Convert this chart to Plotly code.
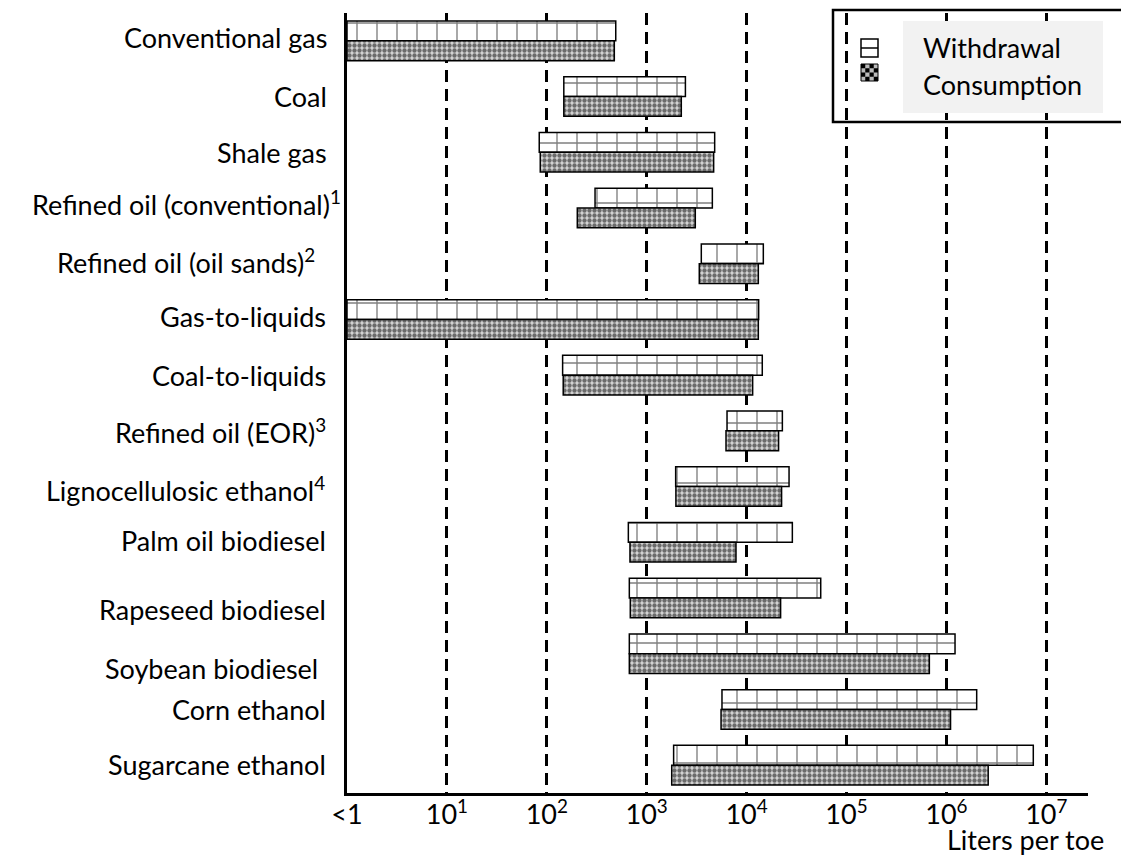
import plotly.graph_objects as go

categories = [
    "Conventional gas", "Coal", "Shale gas", "Refined oil (conventional)",
    "Refined oil (oil sands)", "Gas-to-liquids", "Coal-to-liquids",
    "Refined oil (EOR)", "Lignocellulosic ethanol", "Palm oil biodiesel",
    "Rapeseed biodiesel", "Soybean biodiesel", "Corn ethanol", "Sugarcane ethanol",
]
label_text = [
    "Conventional gas", "Coal", "Shale gas", "Refined oil (conventional)<sup>1</sup>",
    "Refined oil (oil sands)<sup>2</sup>", "Gas-to-liquids", "Coal-to-liquids",
    "Refined oil (EOR)<sup>3</sup>", "Lignocellulosic ethanol<sup>4</sup>", "Palm oil biodiesel",
    "Rapeseed biodiesel", "Soybean biodiesel", "Corn ethanol", "Sugarcane ethanol",
]
withdrawal_low = [1, 148, 84, 304, 3520, 1, 144, 6370, 1950, 655, 670, 670, 5670, 1860]
withdrawal_high = [490, 2440, 4790, 4540, 14700, 13200, 14350, 22800, 26600, 28700,
                   55200, 1.22e6, 2.01e6, 7.41e6]
consumption_low = [1, 148, 86, 202, 3360, 1, 146, 6220, 1960, 680, 685, 670, 5550, 1780]
consumption_high = [474, 2220, 4680, 3065, 13100, 13100, 11500, 20900, 22400, 7830,
                    21900, 675000, 1.10e6, 2.62e6]
tick_vals = [1, 10, 100, 1000, 1e4, 1e5, 1e6, 1e7]
tick_text = ["&lt;1", "10<sup>1</sup>", "10<sup>2</sup>", "10<sup>3</sup>", "10<sup>4</sup>",
             "10<sup>5</sup>", "10<sup>6</sup>", "10<sup>7</sup>"]
x_title = "Liters per toe"
series_names = ["Withdrawal", "Consumption"]

# ---- layout geometry (page pixels; body margin removed by post_script) ----
W, H = 1121, 856
L, R, T, B = 347, 1088, 13, 793          # plot area in page pixels
FONT = "Lato"
FS = 27

def px(x):
    return (x - L) / (R - L)

def py(y):
    return (B - y) / (B - T)

# per-label style offsets (right-end page pixel, vertical shift in px, + = down)
label_right = [329, 329, 329, 343, 317, 328, 328, 328, 327, 328, 328, 320, 328, 328]
label_dy = [-3, 0, 0, -5, -3, -3, 0, 0, 2, -2, 11, 15, 0, -1]

fig = go.Figure()
fig.add_trace(go.Bar(
    y=categories,
    x=[h - l for h, l in zip(withdrawal_high, withdrawal_low)],
    base=withdrawal_low,
    orientation="h",
    name=series_names[0],
    marker=dict(color="white", line=dict(color="black", width=1.5),
                pattern=dict(shape="+", fgcolor="black", bgcolor="white",
                             size=20, solidity=0.13)),
))
fig.add_trace(go.Bar(
    y=categories,
    x=[h - l for h, l in zip(consumption_high, consumption_low)],
    base=consumption_low,
    orientation="h",
    name=series_names[1],
    marker=dict(color="white", line=dict(color="black", width=1.5),
                pattern=dict(shape=".", fgcolor="black", bgcolor="#d6d6d6",
                             size=5, solidity=0.6)),
))

fig.update_layout(
    width=W, height=H,
    margin=dict(l=L, r=W - R, t=T, b=H - B, pad=0),
    paper_bgcolor="white", plot_bgcolor="white",
    barmode="group", bargap=0.29, bargroupgap=0,
    showlegend=False,
    font=dict(family=FONT, size=FS, color="black"),
    xaxis=dict(type="log", range=[0, (R - L) / 99.9],
               tickvals=tick_vals, ticktext=tick_text,
               showgrid=True, gridcolor="black", gridwidth=2.5, griddash="12px,7px",
               showline=True, linecolor="black", linewidth=3,
               ticks="", zeroline=False, ticklabelstandoff=-4,
               tickfont=dict(family=FONT, size=FS, color="black")),
    yaxis=dict(type="category", range=[13.5, -0.5], showticklabels=False,
               showgrid=False, showline=True, linecolor="black", linewidth=2.5,
               ticks="", zeroline=False),
)

annotations = []
for cat, txt, xr, dy in zip(categories, label_text, label_right, label_dy):
    annotations.append(dict(
        xref="paper", yref="y", x=px(xr), y=cat, text=txt, showarrow=False,
        xanchor="right", yanchor="middle", yshift=-dy,
        font=dict(family=FONT, size=FS, color="black"),
    ))
annotations.append(dict(
    xref="paper", yref="paper", x=px(1106), y=py(839), text=x_title, showarrow=False,
    xanchor="right", yanchor="middle", font=dict(family=FONT, size=FS, color="black"),
))
# legend texts
annotations.append(dict(xref="paper", yref="paper", x=px(921), y=py(48), text=series_names[0],
                        showarrow=False, xanchor="left", yanchor="middle",
                        font=dict(family=FONT, size=FS, color="black")))
annotations.append(dict(xref="paper", yref="paper", x=px(921), y=py(84), text=series_names[1],
                        showarrow=False, xanchor="left", yanchor="middle",
                        font=dict(family=FONT, size=FS, color="black")))

shapes = []
# legend frame
shapes.append(dict(type="rect", xref="paper", yref="paper", x0=px(833), x1=px(1140),
                   y0=py(122), y1=py(10), line=dict(color="black", width=2.5),
                   fillcolor="rgba(0,0,0,0)", layer="above"))
# grey text background
shapes.append(dict(type="rect", xref="paper", yref="paper", x0=px(903), x1=px(1103),
                   y0=py(113), y1=py(21), line=dict(width=0),
                   fillcolor="#f2f2f2", layer="above"))
# withdrawal swatch
shapes.append(dict(type="rect", xref="paper", yref="paper", x0=px(861), x1=px(878),
                   y0=py(57), y1=py(39), line=dict(color="black", width=1.5),
                   fillcolor="white", layer="above"))
shapes.append(dict(type="line", xref="paper", yref="paper", x0=px(861), x1=px(878),
                   y0=py(48), y1=py(48), line=dict(color="black", width=1.5), layer="above"))
# consumption swatch (checker)
cx0, cy0, cell = 861, 64, 4.25
shapes.append(dict(type="rect", xref="paper", yref="paper", x0=px(cx0), x1=px(cx0 + 4 * cell),
                   y0=py(cy0 + 4 * cell), y1=py(cy0), line=dict(width=0),
                   fillcolor="#bbbbbb", layer="above"))
for i in range(4):
    for j in range(4):
        if (i + j) % 2 == 0:
            shapes.append(dict(type="rect", xref="paper", yref="paper",
                               x0=px(cx0 + i * cell), x1=px(cx0 + (i + 1) * cell),
                               y0=py(cy0 + (j + 1) * cell), y1=py(cy0 + j * cell),
                               line=dict(width=0), fillcolor="black", layer="above"))
shapes.append(dict(type="rect", xref="paper", yref="paper", x0=px(cx0), x1=px(cx0 + 4 * cell),
                   y0=py(cy0 + 4 * cell), y1=py(cy0), line=dict(color="black", width=1),
                   fillcolor="rgba(0,0,0,0)", layer="above"))

fig.update_layout(annotations=annotations, shapes=shapes)
fig.write_html(
    "out.html",
    config={"displayModeBar": False},
    post_script="document.body.style.margin='0px';document.body.style.overflow='hidden';",
)
